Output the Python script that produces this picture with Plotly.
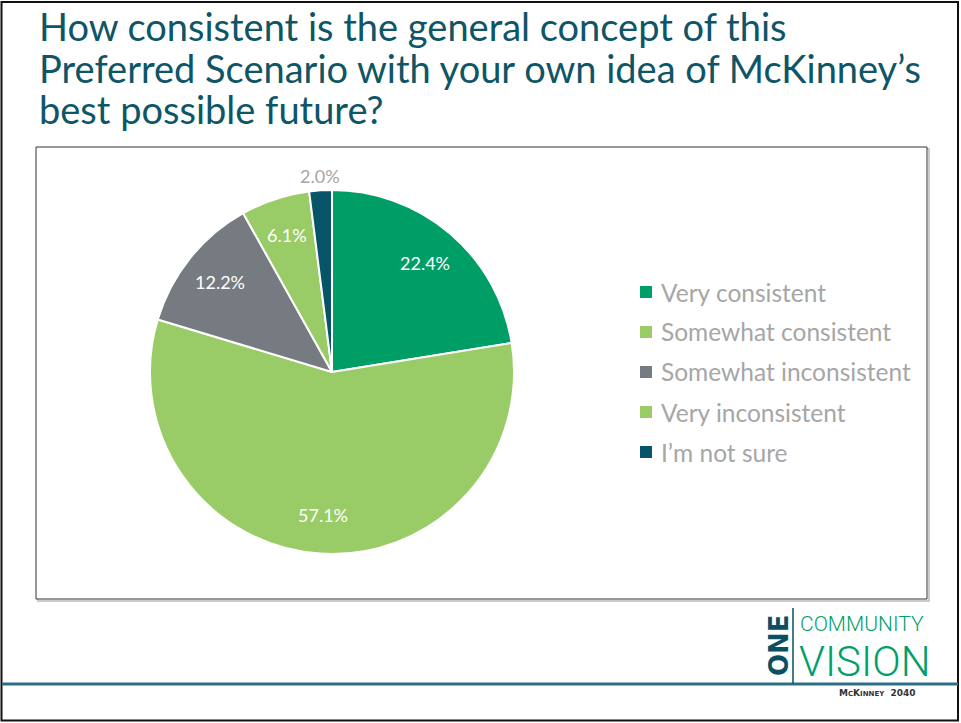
import math
import plotly.graph_objects as go

# Survey responses
labels = ["Very consistent", "Somewhat consistent", "Somewhat inconsistent",
          "Very inconsistent", "I\u2019m not sure"]
shares = [22.4, 57.1, 12.2, 6.1, 2.0]
colors = ["#009E67", "#99CC66", "#757B80", "#99CC66", "#065468"]
label_inside = [True, True, True, True, False]

title_lines = ["How consistent is the general concept of this",
               "Preferred Scenario with your own idea of McKinney\u2019s",
               "best possible future?"]

W, H = 961, 723


def px(x):
    return x / W


def py(y):
    return 1 - y / H


# pie geometry (pixels)
cx, cy, r = 332, 372, 182

fig = go.Figure(go.Pie(
    labels=labels,
    values=shares,
    sort=False,
    direction="clockwise",
    rotation=0,
    marker=dict(colors=colors, line=dict(color="white", width=2)),
    textinfo="none",
    domain=dict(x=[px(cx - r), px(cx + r)], y=[py(cy + r), py(cy - r)]),
    showlegend=False,
    hoverinfo="label+percent",
))

shapes = [
    # slide frame
    dict(type="rect", x0=px(1.5), x1=px(958), y0=py(2), y1=py(720.5),
         line=dict(color="#111111", width=2)),
    # chart box shadow and border
    dict(type="rect", x0=px(38), x1=px(929), y0=py(149), y1=py(601),
         line=dict(color="#BBBBBB", width=1.5), layer="below"),
    dict(type="rect", x0=px(36), x1=px(927), y0=py(147), y1=py(599),
         line=dict(color="#333333", width=1), fillcolor="white", layer="below"),
    # footer rule
    dict(type="line", x0=px(2), x1=px(958), y0=py(684), y1=py(684),
         line=dict(color="#2E6F86", width=3)),
    # logo divider
    dict(type="line", x0=px(793), x1=px(793), y0=py(608), y1=py(684),
         line=dict(color="#0B4F63", width=1.5)),
]

annotations = []
for i, line in enumerate(title_lines):
    annotations.append(dict(
        text=line, x=px(37), y=py(26 + i * 41.5), xref="paper", yref="paper",
        xanchor="left", yanchor="middle", align="left", showarrow=False,
        font=dict(family="Lato", size=38, color="#0E5566")))

# slice value labels, placed along each slice's mid-angle
total = sum(shares)
cum = 0.0
for v, inside in zip(shares, label_inside):
    mid = (cum + v / 2) / total * 2 * math.pi
    cum += v
    rr = r * (0.79 if inside else 1.08)
    lx = cx + rr * math.sin(mid)
    ly = cy - rr * math.cos(mid)
    annotations.append(dict(
        text=f"{v:.1f}%", x=px(lx), y=py(ly), xref="paper", yref="paper",
        xanchor="center", yanchor="middle", showarrow=False,
        font=dict(family="Lato", size=18,
                  color="white" if inside else "#A6A6A6")))

annotations += [
    dict(text="ONE", x=px(779), y=py(645), xref="paper", yref="paper",
         textangle=-90, showarrow=False, xanchor="center", yanchor="middle",
         font=dict(family="DejaVu Sans", size=26, color="#0B4F63", weight="bold")),
    dict(text="COMMUNITY", x=px(798), y=py(624), xref="paper", yref="paper",
         xanchor="left", yanchor="middle", showarrow=False,
         font=dict(family="Roboto", size=21, color="#00A06A", weight=300)),
    dict(text="VISION", x=px(797), y=py(661), xref="paper", yref="paper",
         xanchor="left", yanchor="middle", showarrow=False,
         font=dict(family="Roboto", size=42, color="#00A06A", weight=300)),
    dict(text="M<span style='font-size:7px'>C</span>K<span style='font-size:7px'>INNEY</span>&nbsp; 2040",
         x=px(877), y=py(693), xref="paper", yref="paper",
         xanchor="center", yanchor="middle", showarrow=False,
         font=dict(family="DejaVu Sans", size=9, color="#333333", weight="bold")),
]

# legend drawn as swatches and labels
leg_x, leg_y0, leg_dy = 640, 292, 40
for i, (lab, col) in enumerate(zip(labels, colors)):
    yy = leg_y0 + i * leg_dy
    shapes.append(dict(type="rect", x0=px(leg_x), x1=px(leg_x + 12),
                       y0=py(yy + 6), y1=py(yy - 6),
                       line=dict(width=0), fillcolor=col))
    annotations.append(dict(text=lab, x=px(leg_x + 19), y=py(yy), xref="paper",
                            yref="paper", xanchor="left", yanchor="middle",
                            showarrow=False,
                            font=dict(family="Lato", size=24.5, color="#A6A6A6")))

fig.update_layout(
    width=W, height=H,
    margin=dict(l=0, r=0, t=0, b=0),
    paper_bgcolor="white",
    plot_bgcolor="white",
    shapes=shapes,
    annotations=annotations,
)

fig.write_html("out.html")
